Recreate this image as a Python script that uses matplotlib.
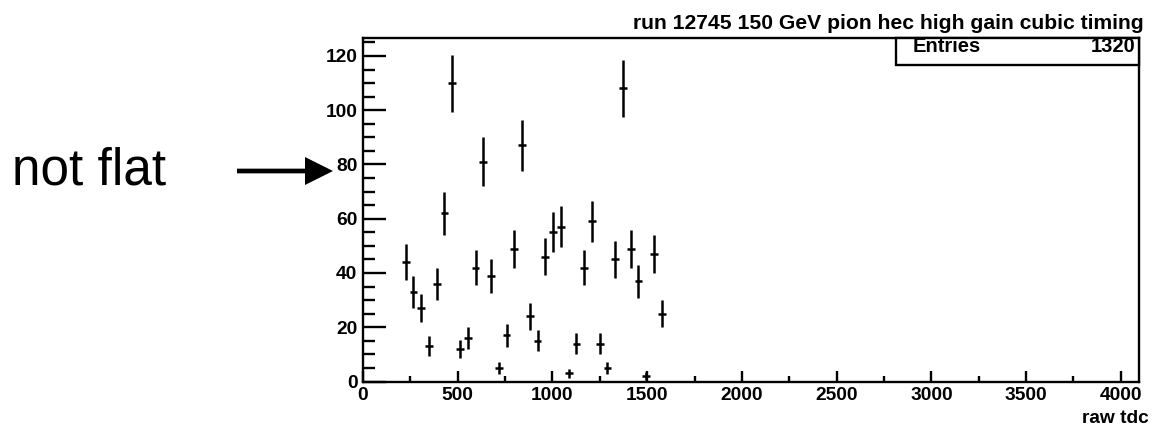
import numpy as np
import matplotlib
matplotlib.use("Agg")
import matplotlib.pyplot as plt
from matplotlib.patches import Rectangle, FancyArrow
from matplotlib.ticker import MultipleLocator

# ---------------- data ----------------
title = "run 12745 150 GeV pion hec high gain cubic timing"
x_label = "raw tdc"
n_bins = 100
x_max = 4096
first_bin = 5
counts = [44, 33, 27, 13, 36, 62, 110, 12, 16, 42, 81, 39, 5, 17, 49, 87, 24,
          15, 46, 55, 57, 3, 14, 42, 59, 14, 5, 45, 108, 49, 37, 2, 47, 25]
entries = 1320
annotation = "not flat"
x_ticks = [0, 500, 1000, 1500, 2000, 2500, 3000, 3500, 4000]
y_ticks = [0, 20, 40, 60, 80, 100, 120]

# ---------------- figure ----------------
W, H = 1163, 426
fig = plt.figure(figsize=(W / 100, H / 100), dpi=100)
plt.rcParams['font.family'] = ['Liberation Sans', 'DejaVu Sans']

left, right, top, bottom = 363, 1139, 38.3, 381.5
ax = fig.add_axes([left / W, 1 - bottom / H, (right - left) / W, (bottom - top) / H])

counts = np.array(counts, dtype=float)
bin_w = x_max / n_bins
centers = (first_bin + np.arange(len(counts)) + 0.5) * bin_w
errs = np.sqrt(counts)

ax.errorbar(centers, counts, xerr=bin_w / 2, yerr=errs, fmt='none',
            ecolor='black', elinewidth=1.8, capsize=0)

ax.set_xlim(0, x_max)
ax.set_ylim(0, 126.5)

for s in ax.spines.values():
    s.set_linewidth(1.7)

ax.set_xticks(x_ticks)
ax.set_yticks(y_ticks)
ax.xaxis.set_minor_locator(MultipleLocator(250))
ax.yaxis.set_minor_locator(MultipleLocator(5))
ax.tick_params(axis='x', which='major', direction='in', length=8, width=1.7,
               labelsize=13.8, pad=4)
ax.tick_params(axis='x', which='minor', direction='in', length=4.5, width=1.7)
ax.tick_params(axis='y', which='major', direction='in', length=16.5, width=1.7,
               labelsize=13.8, pad=4)
ax.tick_params(axis='y', which='minor', direction='in', length=8.5, width=1.7)
for lab in ax.get_xticklabels() + ax.get_yticklabels():
    lab.set_fontweight('bold')

# x label, right aligned below axis
ax.text(1149 / W, 1 - 423 / H, x_label, transform=fig.transFigure,
        ha='right', va='baseline', fontsize=13.8, fontweight='bold')

# title
fig.text(633 / W, 1 - 29 / H, title, ha='left', va='baseline',
         fontsize=15.2, fontweight='bold')

# stats box
bx0 = (896 - left) / (right - left)
by0 = (bottom - 65) / (bottom - top)
ax.add_patch(Rectangle((bx0, by0), 1 - bx0, 1 - by0, transform=ax.transAxes,
                       facecolor='white', edgecolor='black', linewidth=1.7,
                       clip_on=False, zorder=5))
ax.text((913 - left) / (right - left), (bottom - 52) / (bottom - top), "Entries",
        transform=ax.transAxes, ha='left', va='baseline', fontsize=14.5,
        fontweight='bold', zorder=6)
ax.text((1136 - left) / (right - left), (bottom - 52) / (bottom - top), str(entries),
        transform=ax.transAxes, ha='right', va='baseline', fontsize=14.5,
        fontweight='bold', zorder=6)

# annotation text and arrow
fig.text(12 / W, 1 - 185 / H, annotation, ha='left', va='baseline',
         fontsize=37, fontweight='normal')
arrow = FancyArrow(237 / W, 1 - 171 / H, (333 - 237) / W, 0,
                   width=4.7 / H, head_width=28 / H, head_length=28 / W,
                   length_includes_head=True, transform=fig.transFigure,
                   color='black', linewidth=0)
fig.add_artist(arrow)

fig.savefig("out.png", dpi=100)
